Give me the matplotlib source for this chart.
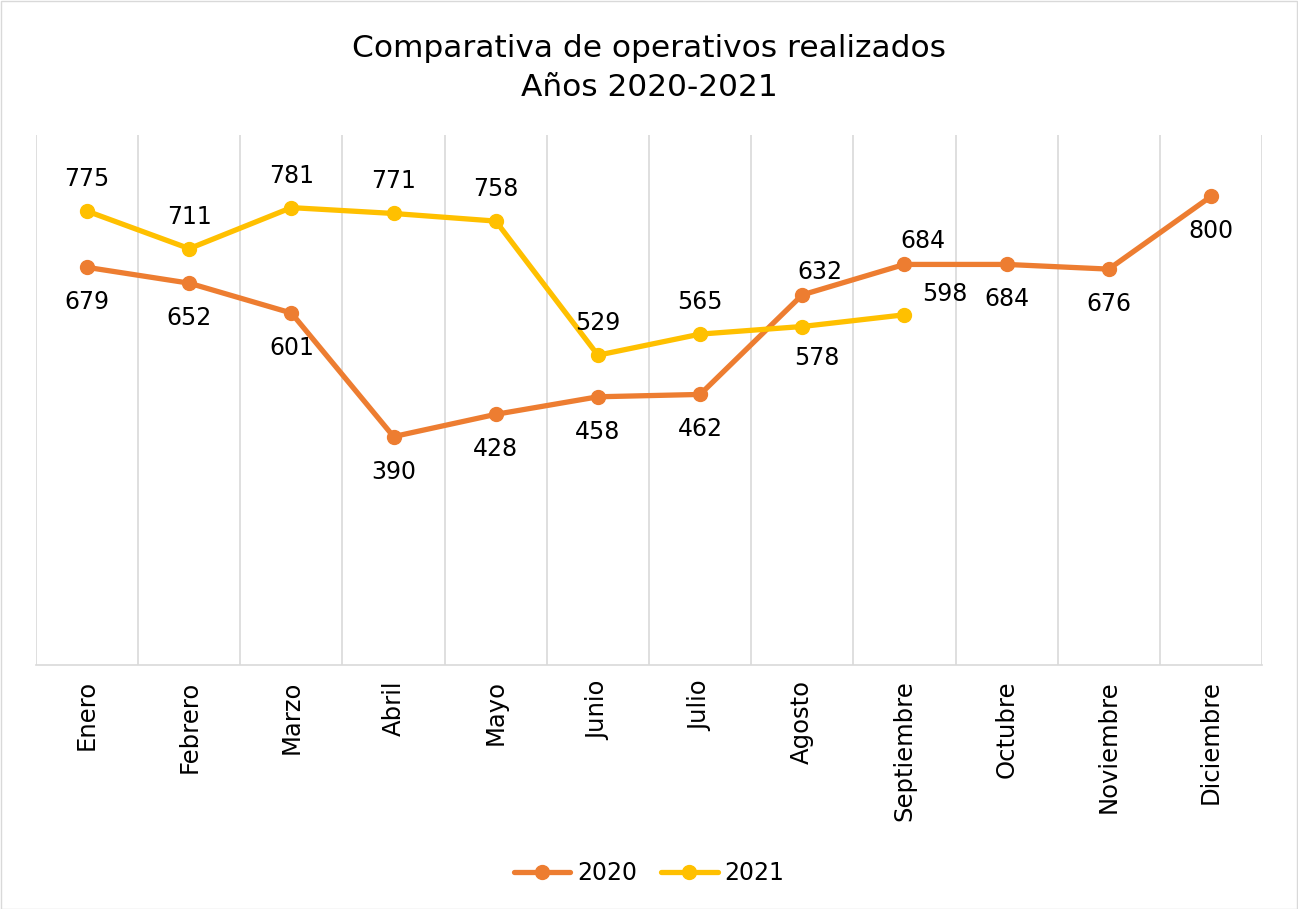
import numpy as np
import matplotlib
matplotlib.use("Agg")
import matplotlib.pyplot as plt
from matplotlib.patches import Rectangle

plt.rcParams["font.family"] = ["DejaVu Sans"]

# data
months = ["Enero", "Febrero", "Marzo", "Abril", "Mayo", "Junio", "Julio",
          "Agosto", "Septiembre", "Octubre", "Noviembre", "Diciembre"]
ops_2020 = [679, 652, 601, 390, 428, 458, 462, 632, 684, 684, 676, 800]
ops_2021 = [775, 711, 781, 771, 758, 529, 565, 578, 598]

# label placement (pixel offsets), Excel style
above = (0, 32)
below = (0, -35)
offs_2020 = [below] * 7 + [(18, 23), (19, 23), below, below, below]
offs_2021 = [above] * 7 + [(15, -31), (40, 21)]

W, H = 1298, 909
fig = plt.figure(figsize=(W / 100, H / 100), dpi=100)
fig.patches.append(Rectangle((0.5 / W, 0.5 / H), 1 - 1.5 / W, 1 - 1.5 / H,
                             transform=fig.transFigure, fill=False,
                             edgecolor="#D9D9D9", lw=1))

left, right, top, bottom = 36, 1262, 135, 665
ax = fig.add_axes([left / W, 1 - bottom / H, (right - left) / W, (bottom - top) / H])

x = np.arange(len(months))
c20, c21 = "#ED7D31", "#FFC000"
ax.plot(x[:len(ops_2020)], ops_2020, color=c20, lw=3.8, marker="o", ms=10,
        solid_capstyle="round", label="2020", zorder=3)
ax.plot(x[:len(ops_2021)], ops_2021, color=c21, lw=3.8, marker="o", ms=10,
        solid_capstyle="round", label="2021", zorder=3)

for vals, offs in ((ops_2020, offs_2020), (ops_2021, offs_2021)):
    for i, (v, (dx, dy)) in enumerate(zip(vals, offs)):
        ax.annotate(str(v), (i, v), xytext=(dx * 0.72, dy * 0.72),
                    textcoords="offset points", ha="center", va="center",
                    fontsize=17, color="#000000")

ax.set_xlim(-0.5, len(months) - 0.5)
ax.set_ylim(0, 905)
ax.set_yticks([])
ax.set_xticks(x)
ax.set_xticklabels(months, rotation=90, fontsize=17.5)
ax.tick_params(axis="x", length=0, pad=11)
ax.set_xticks(np.arange(-0.5, len(months)), minor=True)
ax.tick_params(axis="x", which="minor", length=0)
ax.grid(True, which="minor", axis="x", color="#D9D9D9", lw=1.2)
for s in ("top", "right", "left"):
    ax.spines[s].set_visible(False)
ax.spines["bottom"].set_color("#D9D9D9")
ax.spines["bottom"].set_linewidth(1.2)

fig.text(0.5, 1 - 68 / H, "Comparativa de operativos realizados\nAños 2020-2021",
         ha="center", va="center", fontsize=22.5, linespacing=1.4)

fig.legend(loc="center", bbox_to_anchor=(0.5, 1 - 873 / H), ncol=2, frameon=False,
           fontsize=17, handlelength=2.4, columnspacing=1.0, handletextpad=0.3)

fig.savefig("out.png", dpi=100)
